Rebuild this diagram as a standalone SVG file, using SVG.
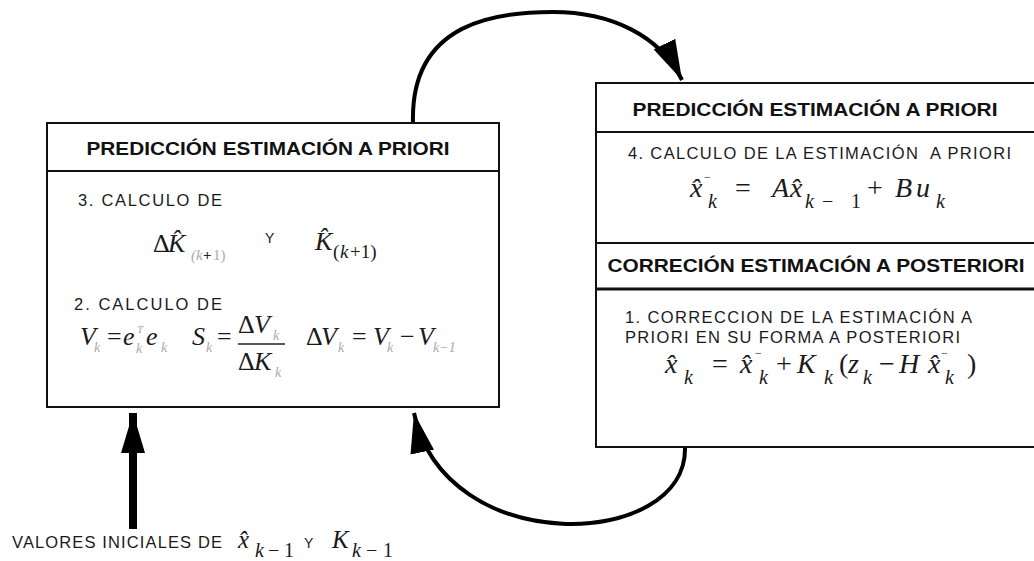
<svg xmlns="http://www.w3.org/2000/svg" width="1034" height="561" viewBox="0 0 1034 561">
<style>
.box{fill:#fff;stroke:#111;stroke-width:2}
.div{stroke:#111;stroke-width:2}
.hdr{font-family:"Liberation Sans",Arial,sans-serif;font-weight:bold;font-size:19px;fill:#111;text-anchor:middle}
.body{font-family:"Liberation Sans",Arial,sans-serif;font-size:16.5px;fill:#1a1a1a}
.m{font-family:"Liberation Serif","Times New Roman",serif;font-style:italic;font-size:26px;fill:#1a1a1a}
.mb{font-size:28px}
.mr{font-style:normal}
.s{font-size:20px}
.g{fill:#aaa}
.conn{fill:none;stroke:#000;stroke-width:4}
</style>
<defs>
<marker id="ah" markerUnits="userSpaceOnUse" markerWidth="40" markerHeight="24" refX="40" refY="12" orient="auto">
<path d="M0,0 L40,12 L0,24 z" fill="#000"/>
</marker>
</defs>

<g id="connectors">
<path class="conn" d="M413,123 C410,20 500,12 553,12 C610,12 660,35 682,80" marker-end="url(#ah)"/>
<path class="conn" d="M685,447 C688,550 445,560 414,413" marker-end="url(#ah)"/>
<path d="M133,529 L133,413" fill="none" stroke="#000" stroke-width="8" marker-end="url(#ah)"/>
</g>

<g id="left-box">
<rect class="box" x="47" y="123" width="452" height="284"/>
<line class="div" x1="47" y1="171" x2="499" y2="171"/>
<text class="hdr" x="268" y="155" textLength="363" lengthAdjust="spacingAndGlyphs">PREDICCIÓN ESTIMACIÓN A PRIORI</text>
<text class="body" x="78" y="206" textLength="144" lengthAdjust="spacing">3. CALCULO DE</text>
<text class="m"><tspan class="mr" x="153" y="252">Δ</tspan><tspan x="168" y="252">K̂</tspan><tspan class="g" x="191" y="260" style="font-size:15px">(k</tspan><tspan class="mr" x="203" y="260" style="font-size:15px;font-weight:bold;fill:#222">+</tspan><tspan class="g mr" x="213" y="260" style="font-size:15px">1)</tspan></text>
<text class="body" x="265" y="243" style="font-size:14px">Y</text>
<text class="m"><tspan x="315" y="250">K̂</tspan><tspan class="mr" x="333" y="258" style="font-size:19px">(</tspan><tspan x="340" y="258" style="font-size:19px">k</tspan><tspan class="mr" x="350" y="258" style="font-size:19px">+1)</tspan></text>
<text class="body" x="74" y="310" textLength="148" lengthAdjust="spacing">2. CALCULO DE</text>
<text class="m">
<tspan x="80" y="345">V</tspan><tspan class="g" x="94" y="352" style="font-size:14px">k</tspan>
<tspan class="mr" x="107" y="345">=</tspan>
<tspan x="123" y="345">e</tspan><tspan class="g" x="137" y="333" style="font-size:11px">T</tspan><tspan class="g" x="136" y="353" style="font-size:14px">k</tspan>
<tspan x="146" y="345">e</tspan><tspan class="g" x="161" y="352" style="font-size:14px">k</tspan>
<tspan x="192" y="345">S</tspan><tspan class="g" x="206" y="352" style="font-size:14px">k</tspan>
<tspan class="mr" x="217" y="345">=</tspan>
<tspan class="mr" x="238" y="333">Δ</tspan><tspan x="254" y="333">V</tspan><tspan class="g" x="273" y="340" style="font-size:14px">k</tspan>
<tspan class="mr" x="238" y="370">Δ</tspan><tspan x="254" y="370">K</tspan><tspan class="g" x="275" y="377" style="font-size:14px">k</tspan>
<tspan class="mr" x="306" y="345">Δ</tspan><tspan x="321" y="345">V</tspan><tspan class="g" x="338" y="352" style="font-size:14px">k</tspan>
<tspan class="mr" x="352" y="345">=</tspan>
<tspan x="373" y="345">V</tspan><tspan class="g" x="387" y="352" style="font-size:14px">k</tspan>
<tspan class="mr" x="400" y="345">−</tspan>
<tspan x="418" y="345">V</tspan><tspan class="g" x="433" y="352" style="font-size:14px">k−1</tspan>
</text>
<line x1="238" y1="344" x2="285" y2="344" stroke="#222" stroke-width="1.5"/>
</g>

<g id="right-box">
<rect class="box" x="596" y="83" width="445" height="364"/>
<line class="div" x1="596" y1="132" x2="1041" y2="132"/>
<line class="div" x1="596" y1="243" x2="1041" y2="243"/>
<line x1="596" y1="289" x2="1041" y2="289" stroke="#111" stroke-width="3"/>
<text class="hdr" x="815" y="116" textLength="365" lengthAdjust="spacingAndGlyphs">PREDICCIÓN ESTIMACIÓN A PRIORI</text>
<text class="body" x="628" y="159" textLength="383" lengthAdjust="spacing" xml:space="preserve">4. CALCULO DE LA ESTIMACIÓN  A PRIORI</text>
<text class="m mb">
<tspan x="690" y="197">x̂</tspan><tspan class="s" x="708" y="208">k</tspan><tspan class="mr" x="704" y="181" style="font-size:12px">−</tspan>
<tspan class="mr" x="735" y="197">=</tspan>
<tspan x="772" y="197">A</tspan><tspan x="790" y="197">x̂</tspan><tspan class="s" x="805" y="208">k</tspan><tspan class="s mr" x="822" y="208">−</tspan><tspan class="s mr" x="851" y="208">1</tspan>
<tspan class="mr" x="867" y="197">+</tspan>
<tspan x="895" y="197">B</tspan><tspan x="916" y="197">u</tspan><tspan class="s" x="936" y="208">k</tspan>
</text>
<text class="hdr" x="816" y="272" textLength="417" lengthAdjust="spacingAndGlyphs">CORRECIÓN ESTIMACIÓN A POSTERIORI</text>
<text class="body" x="625" y="323" textLength="347" lengthAdjust="spacing">1. CORRECCION DE LA ESTIMACIÓN A</text>
<text class="body" x="625" y="343" textLength="335" lengthAdjust="spacing">PRIORI EN SU FORMA A POSTERIORI</text>
<text class="m mb">
<tspan x="665" y="373">x̂</tspan><tspan class="s" x="684" y="384">k</tspan>
<tspan class="mr" x="712" y="373">=</tspan>
<tspan x="740" y="373">x̂</tspan><tspan class="s" x="759" y="384">k</tspan><tspan class="mr" x="755" y="357" style="font-size:12px">−</tspan>
<tspan class="mr" x="776" y="373">+</tspan>
<tspan x="797" y="373">K</tspan><tspan class="s" x="824" y="384">k</tspan>
<tspan class="mr" x="839" y="373">(</tspan><tspan x="848" y="373">z</tspan><tspan class="s" x="863" y="384">k</tspan>
<tspan class="mr" x="879" y="373">−</tspan>
<tspan x="899" y="373">H</tspan><tspan x="928" y="373">x̂</tspan><tspan class="s" x="945" y="384">k</tspan><tspan class="mr" x="941" y="357" style="font-size:12px">−</tspan>
<tspan class="mr" x="967" y="373">)</tspan>
</text>
</g>

<g id="initial-values">
<text class="body" x="12" y="548" textLength="210" lengthAdjust="spacing">VALORES INICIALES DE</text>
<text class="m" style="font-size:25px"><tspan x="238" y="548">x̂</tspan><tspan class="s" x="255" y="557">k</tspan><tspan class="s mr" x="268" y="557">−</tspan><tspan class="s mr" x="284" y="557">1</tspan></text>
<text class="body" x="304" y="548" style="font-size:14px">Y</text>
<text class="m" style="font-size:25px"><tspan x="332" y="548">K</tspan><tspan class="s" x="352" y="557">k</tspan><tspan class="s mr" x="366" y="557">−</tspan><tspan class="s mr" x="383" y="557">1</tspan></text>
</g>
</svg>
